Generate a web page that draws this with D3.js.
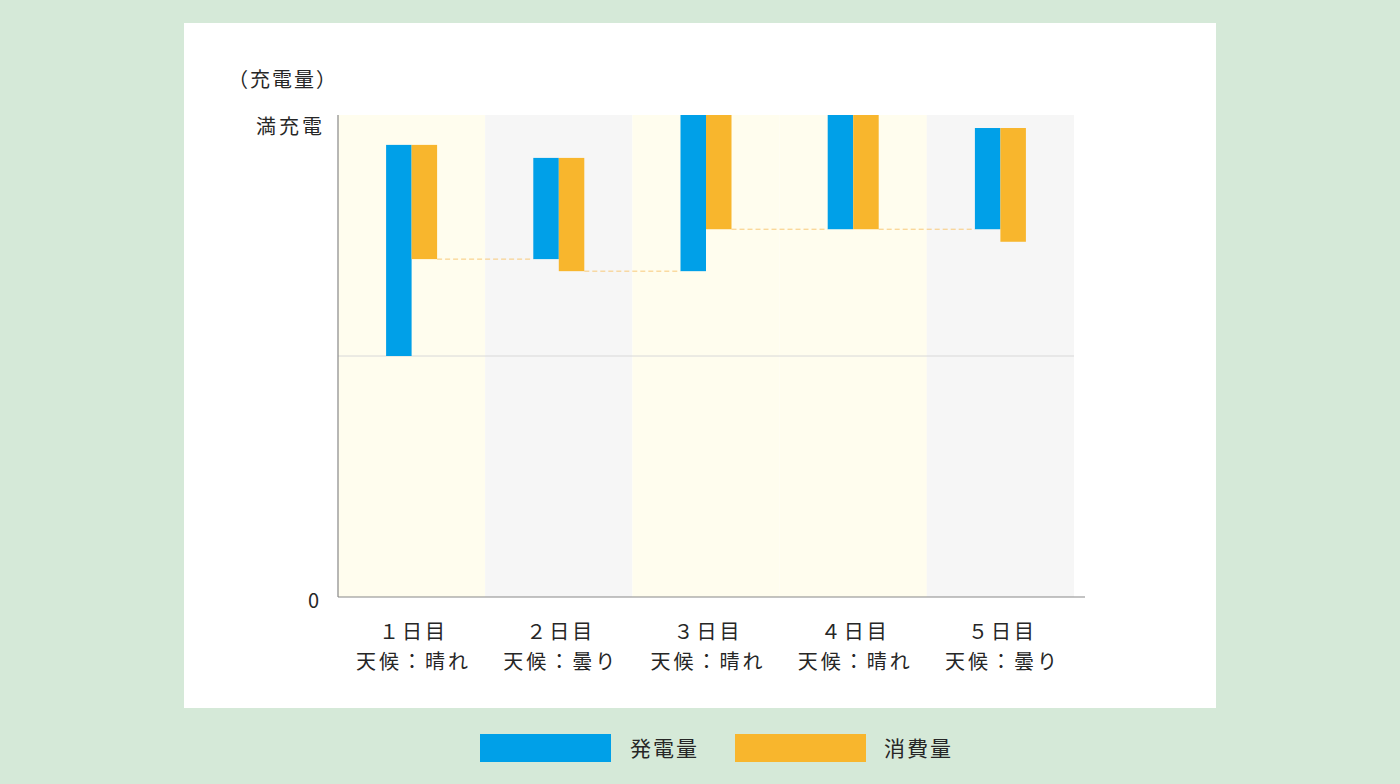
<!DOCTYPE html>
<html><head><meta charset="utf-8">
<script src="https://cdn.jsdelivr.net/npm/d3@7"></script>
<style>
html,body{margin:0;padding:0;background:#d5e9d8;}
svg{display:block;font-family:"Noto Sans CJK JP","Noto Sans",sans-serif;}
</style></head>
<body><svg id="c" width="1400" height="784"></svg>
<script>
const days = ["１日目","２日目","３日目","４日目","５日目"];
const weather = ["天候：晴れ","天候：曇り","天候：晴れ","天候：晴れ","天候：曇り"];
const sunny = [true,false,true,true,false];
// battery level (%) at start of generation, after generation, after consumption
const genFrom = [50, 70.1, 67.6, 76.3, 76.3];
const genTo   = [93.8, 91.1, 100, 100, 97.3];
const consTo  = [70.1, 67.6, 76.3, 76.3, 73.7];
const yTickLabels = ["0","満充電"];
const seriesNames = ["発電量","消費量"];
const colors = ["#00a0e8","#f8b62d"];

(function(){
const svg = d3.select("#c");
svg.append("rect").attr("x",184).attr("y",23).attr("width",1032).attr("height",685).attr("fill","#fff");

const pL=338, pR=1074, pT=115, pB=597;
const x = d3.scaleBand().domain(days).range([pL,pR]).padding(0);
const y = d3.scaleLinear().domain([0,100]).range([pB,pT]);
const bw = 25.5;
const txt = "#262626";

// bands
svg.selectAll(".band").data(days).join("rect")
  .attr("x",d=>x(d)).attr("y",pT).attr("width",x.bandwidth()).attr("height",pB-pT)
  .attr("fill",(d,i)=>sunny[i]?"#fffdee":"#f6f6f6");

// 50% gridline
svg.append("line").attr("x1",pL).attr("x2",pR).attr("y1",y(50)).attr("y2",y(50))
  .attr("stroke","#d8d8d8").attr("stroke-width",1);

// dashed connectors
for(let i=0;i<days.length-1;i++){
  const cx = x(days[i])+x.bandwidth()/2;
  const nx = x(days[i+1])+x.bandwidth()/2;
  svg.append("line").attr("x1",cx+bw).attr("x2",nx-bw)
    .attr("y1",y(consTo[i])).attr("y2",y(consTo[i]))
    .attr("stroke","#f8c97a").attr("stroke-width",1).attr("stroke-dasharray","5,3");
}

// generation bars
svg.selectAll(".gen").data(days).join("rect")
  .attr("x",d=>x(d)+x.bandwidth()/2-bw).attr("width",bw)
  .attr("y",(d,i)=>y(genTo[i])).attr("height",(d,i)=>y(genFrom[i])-y(genTo[i]))
  .attr("fill",colors[0]);
// consumption bars
svg.selectAll(".cons").data(days).join("rect")
  .attr("x",d=>x(d)+x.bandwidth()/2).attr("width",bw)
  .attr("y",(d,i)=>y(genTo[i])).attr("height",(d,i)=>y(consTo[i])-y(genTo[i]))
  .attr("fill",colors[1]);

// axes lines
svg.append("line").attr("x1",pL).attr("x2",pL).attr("y1",pT).attr("y2",pB).attr("stroke","#888").attr("stroke-width",1.2);
svg.append("line").attr("x1",pL).attr("x2",1085).attr("y1",pB).attr("y2",pB).attr("stroke","#888").attr("stroke-width",1.2);

// y labels
svg.append("text").attr("x",319).attr("y",y(0)+11).attr("text-anchor","end").attr("font-size",20).attr("fill",txt).text(yTickLabels[0]);
svg.append("text").attr("x",325).attr("y",y(100)+19).attr("text-anchor","end").attr("font-size",20).attr("fill",txt).attr("letter-spacing","3px").text(yTickLabels[1]);
svg.append("text").attr("x",228).attr("y",87).attr("font-size",20).attr("fill",txt).attr("letter-spacing","2px").text("（充電量）");

// x labels
days.forEach((d,i)=>{
  const cx = x(d)+x.bandwidth()/2;
  svg.append("text").attr("x",cx+2).attr("y",639).attr("text-anchor","middle").attr("font-size",20).attr("fill",txt).attr("letter-spacing","3px").text(d);
  svg.append("text").attr("x",cx+2).attr("y",669).attr("text-anchor","middle").attr("font-size",20).attr("fill",txt).attr("letter-spacing","3px").text(weather[i]);
});

// legend
const lg = [{x:480,tx:630},{x:735,tx:884}];
lg.forEach((l,i)=>{
  svg.append("rect").attr("x",l.x).attr("y",734).attr("width",131).attr("height",28).attr("fill",colors[i]);
  svg.append("text").attr("x",l.tx).attr("y",756).attr("font-size",21).attr("fill",txt).attr("letter-spacing","2px").text(seriesNames[i]);
});
})();
</script></body></html>
